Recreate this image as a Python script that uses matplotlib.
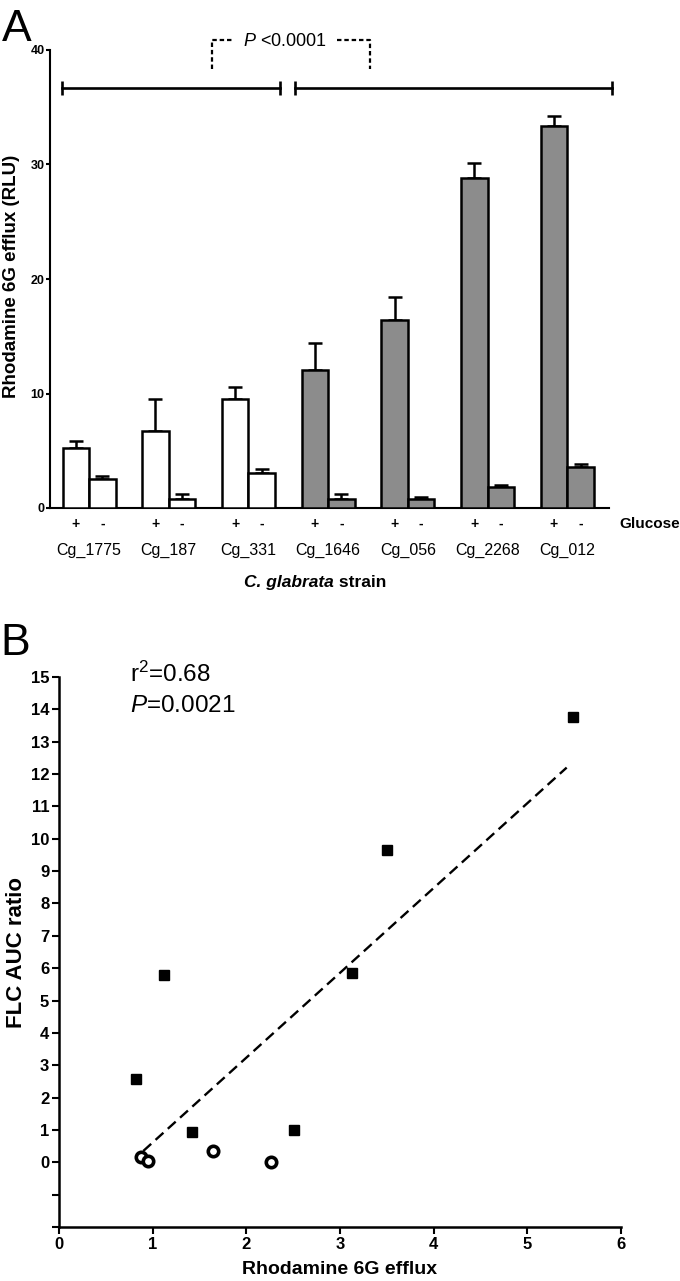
import numpy as np
import matplotlib
matplotlib.use('Agg')
import matplotlib.pyplot as plt

plt.rcParams['font.family'] = ['Liberation Sans', 'DejaVu Sans']
plt.rcParams['mathtext.fontset'] = 'custom'
plt.rcParams['mathtext.rm'] = 'Liberation Sans'
plt.rcParams['mathtext.it'] = 'Liberation Sans:italic'
plt.rcParams['mathtext.bf'] = 'Liberation Sans:bold'

# panel A data: rhodamine 6G efflux with (+) and without (-) glucose
strains = ['Cg_1775', 'Cg_187', 'Cg_331', 'Cg_1646', 'Cg_056', 'Cg_2268', 'Cg_012']
plus_mean = [5.25, 6.75, 9.5, 12.05, 16.45, 28.8, 33.4]
plus_sem = [0.6, 2.8, 1.05, 2.35, 2.0, 1.35, 0.8]
minus_mean = [2.5, 0.8, 3.05, 0.8, 0.8, 1.8, 3.55]
minus_sem = [0.3, 0.4, 0.35, 0.45, 0.2, 0.2, 0.3]
bar_colors = ['white', 'white', 'white', '#8c8c8c', '#8c8c8c', '#8c8c8c', '#8c8c8c']
yticks_a = [0, 10, 20, 30, 40]

# panel B data: FLC AUC ratio vs rhodamine efflux
sq_x = [0.82, 1.12, 1.42, 2.51, 3.13, 3.5, 5.49]
sq_y = [2.58, 5.8, 0.93, 1.0, 5.85, 9.65, 13.75]
circ_x = [0.88, 0.95, 1.64, 2.26]
circ_y = [0.17, 0.03, 0.35, 0.0]
fit_x = [0.9, 5.42]
fit_y = [0.35, 12.2]
xticks_b = [0, 1, 2, 3, 4, 5, 6]
yticks_b = list(range(-2, 16))

W, H = 680, 1281
fig = plt.figure(figsize=(W / 100, H / 100), dpi=100)

# ---------------- panel A ----------------
axA = fig.add_axes([50 / W, (H - 508) / H, 559 / W, 458 / H])
x = np.arange(len(strains))
bw = 0.333
lw = 1.8
axA.bar(x - bw / 2, plus_mean, bw, color=bar_colors, edgecolor='black', linewidth=lw, zorder=3)
axA.bar(x + bw / 2, minus_mean, bw, color=bar_colors, edgecolor='black', linewidth=lw, zorder=3)
axA.errorbar(x - bw / 2, plus_mean, yerr=[np.zeros(len(x)), plus_sem], fmt='none',
             ecolor='black', elinewidth=lw, capsize=5, capthick=lw, zorder=2)
axA.errorbar(x + bw / 2, minus_mean, yerr=[np.zeros(len(x)), minus_sem], fmt='none',
             ecolor='black', elinewidth=lw, capsize=5, capthick=lw, zorder=2)

axA.set_xlim(-0.49, 6.524)
axA.set_ylim(0, 40)
axA.spines['top'].set_visible(False)
axA.spines['right'].set_visible(False)
axA.spines['left'].set_linewidth(1.5)
axA.spines['bottom'].set_linewidth(1.5)
axA.set_xticks([])
axA.set_yticks(yticks_a)
axA.set_yticklabels([str(t) for t in yticks_a], fontweight='bold', fontsize=9)
axA.tick_params(axis='y', length=3, width=1.5, pad=1)

# glucose +/- and strain labels
for i, s in enumerate(strains):
    axA.text(i - bw / 2, -1.4, '+', ha='center', va='center', fontsize=10, fontweight='bold')
    axA.text(i + bw / 2, -1.4, '-', ha='center', va='center', fontsize=10, fontweight='bold')
    axA.text(i, -3.7, s, ha='center', va='center', fontsize=11.5)
axA.text(6.65, -1.4, 'Glucose', ha='left', va='center', fontsize=11, fontweight='bold')

t1 = axA.text(1.95, -6.5, 'C. glabrata', ha='left', va='center', fontsize=12.5,
              fontweight='bold', fontstyle='italic')
axA.annotate(' strain', xy=(1, 0.5), xycoords=t1, ha='left', va='center',
             fontsize=12.5, fontweight='bold')

fig.text(12 / W, (H - 276) / H, 'Rhodamine 6G efflux (RLU)', rotation=90,
         ha='center', va='center', fontsize=13.5, fontweight='bold')

# comparison brackets
by = 36.7
axA.plot([-0.34, 2.40], [by, by], color='black', lw=1.9, marker='|', ms=10, mew=1.9,
         clip_on=False)
axA.plot([2.58, 6.56], [by, by], color='black', lw=1.9, marker='|', ms=10, mew=1.9,
         clip_on=False)
axA.plot([1.54, 1.54, 1.81], [38.3, 40.9, 40.9], color='black', lw=1.6,
         ls=(0, (2, 1.3)), clip_on=False)
axA.plot([3.11, 3.53, 3.53], [40.9, 40.9, 38.3], color='black', lw=1.6,
         ls=(0, (2, 1.3)), clip_on=False)
axA.text(2.46, 40.7, r'$\mathit{P}$ <0.0001', ha='center', va='center', fontsize=13,
         clip_on=False)

fig.text(2 / W, (H - 41) / H, 'A', fontsize=32, ha='left', va='baseline')

# ---------------- panel B ----------------
axB = fig.add_axes([59 / W, 54 / H, 562 / W, 550 / H])
axB.plot(fit_x, fit_y, color='black', lw=1.7, ls=(0, (4.5, 2.5)), zorder=2)
axB.plot(sq_x, sq_y, 's', color='black', ms=7.5, zorder=3)
axB.plot(circ_x, circ_y, 'o', mfc='white', mec='black', ms=7.5, mew=2.6, zorder=3)

axB.set_xlim(0, 6)
axB.set_ylim(-2, 15)
axB.spines['top'].set_visible(False)
axB.spines['right'].set_visible(False)
axB.spines['left'].set_linewidth(1.8)
axB.spines['bottom'].set_linewidth(1.8)
axB.set_xticks(xticks_b)
axB.set_xticklabels([str(t) for t in xticks_b], fontweight='bold', fontsize=12)
axB.set_yticks(yticks_b)
axB.set_yticklabels([str(t) if t >= 0 else '' for t in yticks_b], fontweight='bold',
                    fontsize=12)
axB.tick_params(axis='both', length=5, width=1.5, pad=2)
for sp in axB.spines.values():
    sp.set_clip_on(False)
for tl in axB.get_xticklines() + axB.get_yticklines():
    tl.set_clip_on(False)

axB.set_xlabel('Rhodamine 6G efflux', fontsize=14, fontweight='bold', labelpad=7)
axB.set_ylabel('FLC AUC ratio', fontsize=16, fontweight='bold', labelpad=3)

fig.text(130 / W, (H - 682) / H, r'r$^2$=0.68', fontsize=17.5, ha='left', va='baseline')
fig.text(130 / W, (H - 712) / H, r'$\mathit{P}$=0.0021', fontsize=17.5, ha='left',
         va='baseline')
fig.text(0 / W, (H - 655) / H, 'B', fontsize=32, ha='left', va='baseline')

fig.savefig('out.png', dpi=100)
